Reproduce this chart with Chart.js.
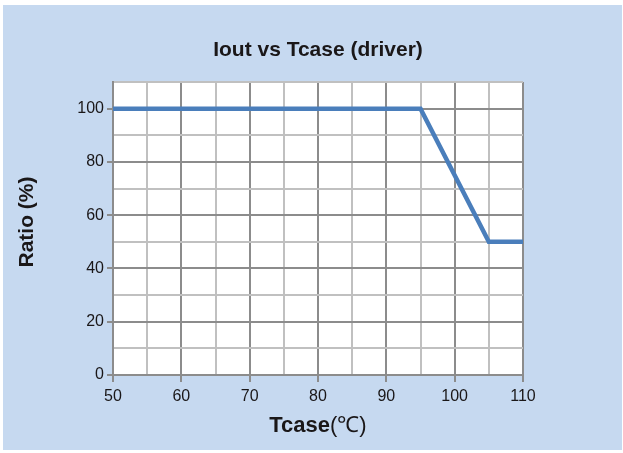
<!DOCTYPE html>
<html>
<head>
<meta charset="utf-8">
<script src="https://cdn.jsdelivr.net/npm/chart.js@4.4.0/dist/chart.umd.min.js"></script>
<style>
  html, body { margin: 0; padding: 0; background: #fff; }
  #wrap { width: 623px; height: 453px; }
</style>
</head>
<body>
<div id="wrap"><canvas id="myChart" width="623" height="453"></canvas></div>
<script>
// data
var tcase = [50, 95, 105, 110];
var ratio = [100, 100, 50, 50];
var xTickLabels = [50, 60, 70, 80, 90, 100, 110];
var yTickLabels = [0, 20, 40, 60, 80, 100];

var chartTitle = 'Iout vs Tcase (driver)';
var yTitle = 'Ratio (%)';

var FONT = '"Liberation Sans", Arial, sans-serif';
var TXT = '#1a1718';
var MAJOR = '#8c8c8c';
var MINOR = '#c0c0c0';

// backgrounds + titles
var decor = {
    id: 'decor',
    beforeDraw: function (chart) {
        var c = chart.ctx, a = chart.chartArea;
        c.save();
        c.fillStyle = '#ffffff';
        c.fillRect(0, 0, chart.width, chart.height);
        c.fillStyle = '#c6d9f0';
        c.fillRect(3, 5, 619, 445);
        c.fillStyle = '#ffffff';
        c.fillRect(a.left, a.top, a.right - a.left, a.bottom - a.top);
        c.restore();
    },
    afterDraw: function (chart) {
        var c = chart.ctx;
        c.save();
        c.fillStyle = TXT;
        c.textBaseline = 'middle';
        c.textAlign = 'center';
        c.font = 'bold 21px ' + FONT;
        c.fillText(chartTitle, 318, 50);

        // x title: "Tcase" bold, "(℃)" regular
        c.font = 'bold 22px ' + FONT;
        var w1 = c.measureText('Tcase').width;
        c.font = '22px ' + FONT;
        var w2 = c.measureText('(℃)').width;
        var x0 = 318 - (w1 + w2) / 2;
        c.textAlign = 'left';
        c.font = 'bold 22px ' + FONT;
        c.fillText('Tcase', x0, 426);
        c.font = '22px ' + FONT;
        c.fillText('(℃)', x0 + w1, 426);

        c.translate(27, 222);
        c.rotate(-Math.PI / 2);
        c.textAlign = 'center';
        c.font = 'bold 21px ' + FONT;
        c.fillText(yTitle, 0, 0);
        c.restore();
    }
};

var points = tcase.map(function (t, i) { return { x: t, y: ratio[i] }; });

var ctx = document.getElementById('myChart').getContext('2d');
var myChart = new Chart(ctx, {
    type: 'line',
    data: {
        datasets: [{
            data: points,
            borderColor: '#4a7ebb',
            borderWidth: 4.5,
            pointRadius: 0,
            fill: false,
            tension: 0
        }]
    },
    options: {
        responsive: false,
        animation: false,
        layout: { padding: { left: 0, top: 82, right: 100, bottom: 0 } },
        plugins: { legend: { display: false }, tooltip: { enabled: false } },
        scales: {
            x: {
                type: 'linear',
                min: 50,
                max: 110,
                afterFit: function (s) { s.height = 78; },
                ticks: {
                    stepSize: 5,
                    color: TXT,
                    font: { family: FONT, size: 16 },
                    padding: 5,
                    maxRotation: 0,
                    autoSkip: false,
                    callback: function (v) { return xTickLabels.indexOf(v) >= 0 ? String(v) : ''; }
                },
                grid: {
                    lineWidth: 2,
                    tickLength: 7,
                    color: function (c) { return c.tick && c.tick.value % 10 === 0 ? MAJOR : MINOR; },
                    tickColor: function (c) { return c.tick && c.tick.value % 10 === 0 ? MAJOR : 'rgba(0,0,0,0)'; }
                },
                border: { color: MAJOR, width: 2 }
            },
            y: {
                min: 0,
                max: 110,
                afterFit: function (s) { s.width = 113; },
                ticks: {
                    stepSize: 10,
                    color: TXT,
                    font: { family: FONT, size: 16 },
                    padding: 3,
                    autoSkip: false,
                    callback: function (v) { return yTickLabels.indexOf(v) >= 0 ? String(v) : ''; }
                },
                grid: {
                    lineWidth: 2,
                    tickLength: 6,
                    color: function (c) { return c.tick && c.tick.value % 20 === 0 ? MAJOR : MINOR; },
                    tickColor: function (c) { return c.tick && yTickLabels.indexOf(c.tick.value) >= 0 ? MAJOR : 'rgba(0,0,0,0)'; }
                },
                border: { color: MAJOR, width: 2 }
            }
        }
    },
    plugins: [decor]
});
</script>
</body>
</html>
